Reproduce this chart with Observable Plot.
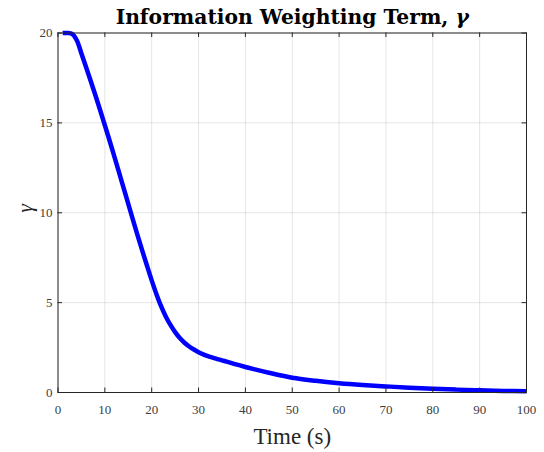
<!DOCTYPE html>
<html>
<head>
<meta charset="utf-8">
<script src="https://cdn.jsdelivr.net/npm/d3@7"></script>
<script src="https://cdn.jsdelivr.net/npm/@observablehq/plot@0.6"></script>
<style>
  html, body { margin: 0; padding: 0; background: #fff; }
</style>
</head>
<body>
<div id="chart"></div>
<script>
const titleText = "Information Weighting Term, γ";
const xLabel = "Time (s)";
const yLabel = "γ";
const xTicks = [0, 10, 20, 30, 40, 50, 60, 70, 80, 90, 100];
const yTicks = [0, 5, 10, 15, 20];
const time = [1, 2, 3, 4, 5, 6, 7, 8, 9, 10, 11, 12, 13, 14, 15, 16, 17, 18, 19, 20,
  21, 22, 23, 24, 25, 26, 27, 28, 29, 30, 31, 32, 33, 34, 35, 36, 38, 40, 42, 45,
  50, 55, 60, 65, 70, 75, 80, 85, 90, 95, 100];
const gamma = [20, 20, 19.95, 19.6, 18.86, 18.1, 17.32, 16.52, 15.7, 14.87, 14.02, 13.15, 12.27, 11.38, 10.49, 9.6, 8.73, 7.88, 7.05, 6.24,
  5.48, 4.8, 4.23, 3.76, 3.36, 3.03, 2.77, 2.56, 2.39, 2.24, 2.12, 2.02, 1.94, 1.86, 1.79, 1.72, 1.56, 1.42, 1.29, 1.1,
  0.82, 0.65, 0.52, 0.42, 0.34, 0.27, 0.21, 0.16, 0.12, 0.09, 0.07];

const data = time.map((t, i) => ({t, g: gamma[i]}));

const W = 544, H = 452;
const mL = 57.5, mR = 18, mT = 32.5, mB = 60;
const plotH = H - mT - mB;
const plotW = W - mL - mR;
const tickLen = 4.5;
const axisColor = "#262626";
const serif = "'Liberation Serif', 'Times New Roman', serif";

const chart = Plot.plot({
  width: W,
  height: H,
  marginLeft: mL,
  marginRight: mR,
  marginTop: mT,
  marginBottom: mB,
  style: {fontFamily: serif, background: "#fff", overflow: "visible"},
  x: {domain: [0, 100], label: null},
  y: {domain: [0, 20], label: null},
  marks: [
    Plot.gridX(xTicks, {stroke: "#000", strokeOpacity: 0.1, strokeWidth: 1}),
    Plot.gridY(yTicks, {stroke: "#000", strokeOpacity: 0.1, strokeWidth: 1}),
    Plot.line(data, {x: "t", y: "g", stroke: "#0000ff", strokeWidth: 4.5, curve: "catmull-rom", strokeLinecap: "butt"}),
    Plot.frame({stroke: axisColor, strokeWidth: 1}),
    // inward ticks (bottom, top, left, right)
    Plot.tickX(xTicks, {x: d => d, stroke: axisColor, insetTop: plotH - tickLen}),
    Plot.tickX(xTicks, {x: d => d, stroke: axisColor, insetBottom: plotH - tickLen}),
    Plot.tickY(yTicks, {y: d => d, stroke: axisColor, insetRight: plotW - tickLen}),
    Plot.tickY(yTicks, {y: d => d, stroke: axisColor, insetLeft: plotW - tickLen}),
    Plot.axisX(xTicks, {tickSize: 0, tickPadding: 12, fontSize: 13, fill: "#404040", className: "tk"}),
    Plot.axisY(yTicks, {tickSize: 0, tickPadding: 5.5, fontSize: 13, fill: "#404040", className: "tk"}),
    Plot.text([titleText], {frameAnchor: "top", lineAnchor: "bottom", dy: -9.2, fontSize: 20.3, fontWeight: "bold", fill: "#000", className: "ttl"}),
    Plot.text([xLabel], {frameAnchor: "bottom", lineAnchor: "bottom", dy: 51, fontSize: 23, fill: "#262626", className: "lbl"}),
    Plot.text([yLabel], {frameAnchor: "left", lineAnchor: "middle", dx: -33, rotate: -90, fontSize: 22, fontStyle: "italic", fill: "#262626", className: "lbl"})
  ]
});

document.getElementById("chart").appendChild(chart);

// fonts: serif everywhere, DejaVu Serif bold for the title
d3.select(chart).selectAll("text").style("font-family", serif);
d3.select(chart).selectAll("g.ttl text").style("font-family", "'DejaVu Serif', serif");

// make the γ in the title italic (LaTeX-style bold math)
d3.select(chart).selectAll("g.ttl text").each(function () {
  const el = d3.select(this);
  const txt = el.text();
  const idx = txt.lastIndexOf("γ");
  if (idx >= 0) {
    el.text(null);
    el.append("tspan").text(txt.slice(0, idx));
    el.append("tspan").attr("font-style", "italic").text(txt.slice(idx));
  }
});
</script>
</body>
</html>
